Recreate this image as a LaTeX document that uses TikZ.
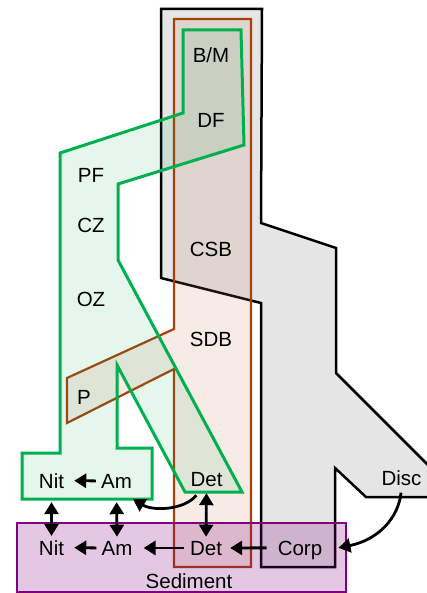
\documentclass[tikz,border=0pt]{standalone}
\usepackage{fontspec}
\setmainfont{Liberation Sans}
\usetikzlibrary{arrows.meta}
\definecolor{zgreen}{RGB}{0,176,80}
\definecolor{zbrown}{RGB}{168,64,10}
\definecolor{zbrownfill}{RGB}{200,120,80}
\definecolor{zpurple}{RGB}{128,0,128}
\begin{document}
\begin{tikzpicture}[x=1pt,y=-1pt,
		lbl/.style={font=\fontsize{20.5}{24}\selectfont,inner sep=2pt,text depth=0pt,anchor=base},
		flow/.style={line width=2.8pt,-{Triangle[length=12pt,width=14pt]}},
		both/.style={line width=2.8pt,{Triangle[length=12pt,width=14pt]}-{Triangle[length=12pt,width=14pt]}}]
			\useasboundingbox (0,0) rectangle (427,593);
			\clip (0,0) rectangle (427,593);
			\filldraw[fill=black!10,line width=2.5pt] (161,9)--(262,9)--(261,223)--(336,248)--(336,373)--(460,497)--(366,497)--(335,468)--(335,567)--(261,567)--(261,303)--(161,278)--cycle;
			\filldraw[draw=zbrown,fill=zbrownfill,fill opacity=.15,line width=2.2pt] (174,19)--(251,19)--(251,567)--(174,567)--(174,369)--(67,423)--(67,378)--(174,329)--cycle;
			\filldraw[draw=zgreen,fill=zgreen,fill opacity=.1,line width=3pt] (183,30)--(241,30)--(244,145)--(118,184)--(118,260)--(242,492)--(185,492)--(117,365)--(117,448)--(152,448)--(152,499)--(22,499)--(22,453)--(60,453)--(60,153)--(183,113)--cycle;
			\filldraw[draw=zpurple,fill=zpurple,fill opacity=.22,line width=2.2pt] (17,523) rectangle (346,592);
			\node[lbl] (bm) at (211,63) {B/M};
			\node[lbl] (df) at (211,127.5) {DF};
			\node[lbl] (pf) at (91,182.5) {PF};
			\node[lbl] (cz) at (91,232.5) {CZ};
			\node[lbl] (csb) at (211,256) {CSB};
			\node[lbl] (oz) at (91,306.5) {OZ};
			\node[lbl] (sdb) at (211,346.5) {SDB};
			\node[lbl] (p) at (84,404) {P};
			\node[lbl] (nitU) at (51.5,488) {Nit};
			\node[lbl] (amU) at (116.5,488) {Am};
			\node[lbl] (detU) at (206.5,486) {Det};
			\node[lbl] (disc) at (401.5,485.5) {Disc};
			\node[lbl] (nitL) at (51.5,555) {Nit};
			\node[lbl] (amL) at (117,555) {Am};
			\node[lbl] (detL) at (206,555) {Det};
			\node[lbl] (corp) at (300,555) {Corp};
			\node[lbl] (sed) at (189,588) {Sediment};
			\draw[flow,shorten <=3pt,shorten >=8pt] (amU.west)--(nitU.east);
			\draw[flow,shorten <=3pt,shorten >=8pt] (amL.west)--(nitL.east);
			\draw[flow,shorten <=4pt,shorten >=9pt] (detL.west)--(amL.east);
			\draw[flow,shorten <=9pt,shorten >=6pt] (corp.west)--(detL.east);
			\draw[both,shorten <=12pt,shorten >=2pt] (nitU.south)--(nitL.north);
			\draw[both,shorten <=12pt,shorten >=2pt] (amU.south)--(amL.north);
			\draw[both,shorten <=5pt,shorten >=2pt] (detU.south)--(detL.north);
			\draw[flow] ([shift={(8,7)}]detU.south west) .. controls +(-12,15) and +(20,12) .. ([shift={(-1,9)}]amU.south east);
			\draw[flow,shorten <=5pt] (disc.south) .. controls +(-3,30) and +(40,-8) .. ([xshift=14pt]corp.east);
		\end{tikzpicture}
\end{document}
